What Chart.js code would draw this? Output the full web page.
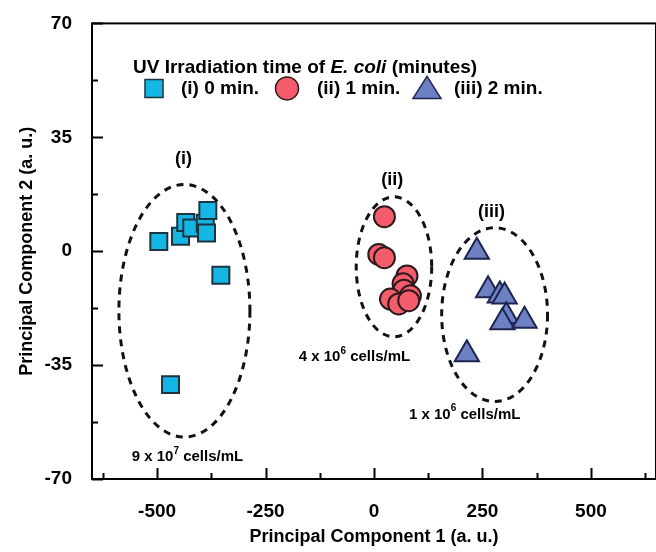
<!DOCTYPE html>
<html>
<head>
<meta charset="utf-8">
<script src="https://cdn.jsdelivr.net/npm/chart.js@4.4.1/dist/chart.umd.min.js"></script>
<style>
  html, body { margin: 0; padding: 0; background: #fff; overflow: hidden; }
</style>
</head>
<body>
<canvas id="pca" width="672" height="552"></canvas>
<script>
// PCA scores (PC1, PC2)
const min0X = [-496, -446, -434, -420, -389, -386, -383, -353, -469];
const min0Y = [3.0, 4.6, 8.8, 7.1, 8.6, 5.6, 12.5, -7.4, -41];

const min1X = [24, 11, 24, 76, 67, 69, 84, 38, 57, 80];
const min1Y = [10.6, -1, -2, -7.6, -10, -12, -13.7, -14.7, -16.2, -15.2];

const min2X = [237, 263, 290, 301, 305, 296, 347, 214];
const min2Y = [-0.2, -12, -13.6, -13.9, -20, -21.8, -21.4, -31.7];

const seriesNames = ['(i) 0 min.', '(ii) 1 min.', '(iii) 2 min.'];

// axis ticks
const xTickVals = [-625, -500, -375, -250, -125, 0, 125, 250, 375, 500, 625];
const yTickVals = [-70, -52.5, -35, -17.5, 0, 17.5, 35, 52.5, 70];

// dashed cluster outlines (centre and radii in data units)
const ellCx = [-437, 46, 278];
const ellCy = [-18.3, -4.8, -19.5];
const ellRx = [151, 87, 122];
const ellRy = [38.8, 21.5, 26.7];

// cluster labels
const clusterTxt = ['(i)', '(ii)', '(iii)'];
const clusterX = [-439, 42, 271];
const clusterY = [28.3, 22, 12];

// concentration notes: base, exponent
const concBase = ['9 x 10', '4 x 10', '1 x 10'];
const concExp = ['7', '6', '6'];
const concX = [-430, -45, 209];
const concY = [-63.3, -32.6, -50.2];

const FONT = "'Liberation Sans', Arial, sans-serif";

function toPts(xs, ys) {
  return xs.map((x, i) => ({ x: x, y: ys[i] }));
}

function drawSup(ctx, base, exp, rest, cx, cy, size) {
  const big = 'bold ' + size + 'px ' + FONT;
  const small = 'bold ' + Math.round(size * 0.65) + 'px ' + FONT;
  ctx.font = big;
  const w1 = ctx.measureText(base).width;
  const w3 = ctx.measureText(rest).width;
  ctx.font = small;
  const w2 = ctx.measureText(exp).width;
  let x = cx - (w1 + w2 + w3) / 2;
  ctx.textAlign = 'left';
  ctx.textBaseline = 'middle';
  ctx.font = big;
  ctx.fillText(base, x, cy);
  x += w1;
  ctx.font = small;
  ctx.fillText(exp, x, cy - size * 0.42);
  x += w2;
  ctx.font = big;
  ctx.fillText(rest, x, cy);
}

const styles = {
  fill: ['#14b6e4', '#f45c6c', '#6e80c4'],
  line: ['#1b3440', '#2a1a1c', '#1c2550']
};

const extras = {
  id: 'extras',
  beforeDatasetsDraw(chart) {
    const ctx = chart.ctx;
    const xs = chart.scales.x, ys = chart.scales.y;
    ctx.save();
    ctx.strokeStyle = '#111';
    ctx.lineWidth = 3;
    ctx.setLineDash([7, 6]);
    for (let i = 0; i < ellCx.length; i++) {
      const cx = xs.getPixelForValue(ellCx[i]);
      const cy = ys.getPixelForValue(ellCy[i]);
      const rx = Math.abs(xs.getPixelForValue(ellCx[i] + ellRx[i]) - cx);
      const ry = Math.abs(ys.getPixelForValue(ellCy[i] + ellRy[i]) - cy);
      ctx.beginPath();
      ctx.ellipse(cx, cy, rx, ry, 0, 0, Math.PI * 2);
      ctx.stroke();
    }
    ctx.restore();
  },
  afterDraw(chart) {
    const ctx = chart.ctx;
    const a = chart.chartArea;
    const xs = chart.scales.x, ys = chart.scales.y;
    ctx.save();
    // frame
    ctx.strokeStyle = '#000';
    ctx.lineWidth = 2;
    ctx.strokeRect(a.left, a.top, a.right - a.left, a.bottom - a.top);
    // inward ticks
    ctx.beginPath();
    xTickVals.forEach(v => {
      const px = Math.round(xs.getPixelForValue(v)) + 0.5;
      const len = v % 250 === 0 ? 11 : 6;
      ctx.moveTo(px, a.bottom);
      ctx.lineTo(px, a.bottom - len);
    });
    yTickVals.forEach(v => {
      const py = Math.round(ys.getPixelForValue(v)) + 0.5;
      const len = v % 35 === 0 ? 11 : 6;
      ctx.moveTo(a.left, py);
      ctx.lineTo(a.left + len, py);
    });
    ctx.stroke();

    // cluster labels
    ctx.fillStyle = '#000';
    ctx.textAlign = 'center';
    ctx.textBaseline = 'middle';
    ctx.font = 'bold 18px ' + FONT;
    clusterTxt.forEach((t, i) => {
      ctx.fillText(t, xs.getPixelForValue(clusterX[i]), ys.getPixelForValue(clusterY[i]));
    });
    concBase.forEach((b, i) => {
      drawSup(ctx, b, concExp[i], ' cells/mL', xs.getPixelForValue(concX[i]), ys.getPixelForValue(concY[i]), 15);
    });

    // legend
    const lx = a.left + 41, ly = a.top + 44;
    ctx.textAlign = 'left';
    ctx.font = 'bold 19px ' + FONT;
    const t1 = 'UV Irradiation time of ';
    ctx.fillText(t1, lx, ly);
    let x = lx + ctx.measureText(t1).width;
    ctx.font = 'italic bold 19px ' + FONT;
    ctx.fillText('E. coli', x, ly);
    x += ctx.measureText('E. coli').width;
    ctx.font = 'bold 19px ' + FONT;
    ctx.fillText(' (minutes)', x, ly);

    const iy = ly + 21;
    const markX = [a.left + 62, a.left + 195, a.left + 335];
    const txtX = [a.left + 89, a.left + 225, a.left + 362];
    ctx.lineWidth = 1.5;
    for (let i = 0; i < 3; i++) {
      const mx = markX[i];
      ctx.fillStyle = styles.fill[i];
      ctx.strokeStyle = styles.line[i];
      ctx.beginPath();
      if (i === 0) {
        ctx.rect(mx - 9, iy - 9, 18, 18);
      } else if (i === 1) {
        ctx.arc(mx, iy, 11.5, 0, Math.PI * 2);
      } else {
        ctx.moveTo(mx, iy - 12);
        ctx.lineTo(mx + 14, iy + 10);
        ctx.lineTo(mx - 14, iy + 10);
        ctx.closePath();
      }
      ctx.fill();
      ctx.stroke();
      ctx.fillStyle = '#000';
      ctx.font = 'bold 19px ' + FONT;
      ctx.fillText(seriesNames[i], txtX[i], iy);
    }
    ctx.restore();
  }
};

const ctx = document.getElementById('pca').getContext('2d');
new Chart(ctx, {
  type: 'scatter',
  data: {
    datasets: [
      {
        label: seriesNames[0],
        data: toPts(min0X, min0Y),
        pointStyle: 'rect',
        pointRadius: 12,
        backgroundColor: styles.fill[0],
        borderColor: styles.line[0],
        borderWidth: 2
      },
      {
        label: seriesNames[1],
        data: toPts(min1X, min1Y),
        pointStyle: 'circle',
        pointRadius: 10.5,
        backgroundColor: styles.fill[1],
        borderColor: styles.line[1],
        borderWidth: 2
      },
      {
        label: seriesNames[2],
        data: toPts(min2X, min2Y),
        pointStyle: 'triangle',
        pointRadius: 14,
        backgroundColor: styles.fill[2],
        borderColor: styles.line[2],
        borderWidth: 2
      }
    ]
  },
  options: {
    responsive: false,
    animation: false,
    layout: { padding: { top: 20, right: 11, left: 0, bottom: 0 } },
    plugins: {
      legend: { display: false },
      tooltip: { enabled: false }
    },
    scales: {
      x: {
        type: 'linear',
        min: -650,
        max: 650,
        afterBuildTicks: s => { s.ticks = xTickVals.map(v => ({ value: v })); },
        afterFit: s => { s.height = 73; },
        grid: { display: false },
        border: { display: false },
        ticks: {
          autoSkip: false,
          maxRotation: 0,
          padding: 13,
          color: '#000',
          font: { family: FONT, size: 19, weight: 'bold' },
          callback: v => (v % 250 === 0 ? String(v) : '')
        },
        title: {
          display: true,
          text: 'Principal Component 1 (a. u.)',
          color: '#000',
          font: { family: FONT, size: 18, weight: 'bold' },
          padding: { top: 0, bottom: 4 }
        }
      },
      y: {
        type: 'linear',
        min: -70,
        max: 70,
        afterBuildTicks: s => { s.ticks = yTickVals.map(v => ({ value: v })); },
        afterFit: s => { s.width = 92; },
        grid: { display: false },
        border: { display: false },
        ticks: {
          autoSkip: false,
          padding: 12,
          color: '#000',
          font: { family: FONT, size: 19, weight: 'bold' },
          callback: v => (v % 35 === 0 ? String(v) : '')
        },
        title: {
          display: true,
          text: 'Principal Component 2 (a. u.)',
          color: '#000',
          font: { family: FONT, size: 18, weight: 'bold' },
          padding: { top: 16, bottom: 0 }
        }
      }
    }
  },
  plugins: [extras]
});
</script>
</body>
</html>
